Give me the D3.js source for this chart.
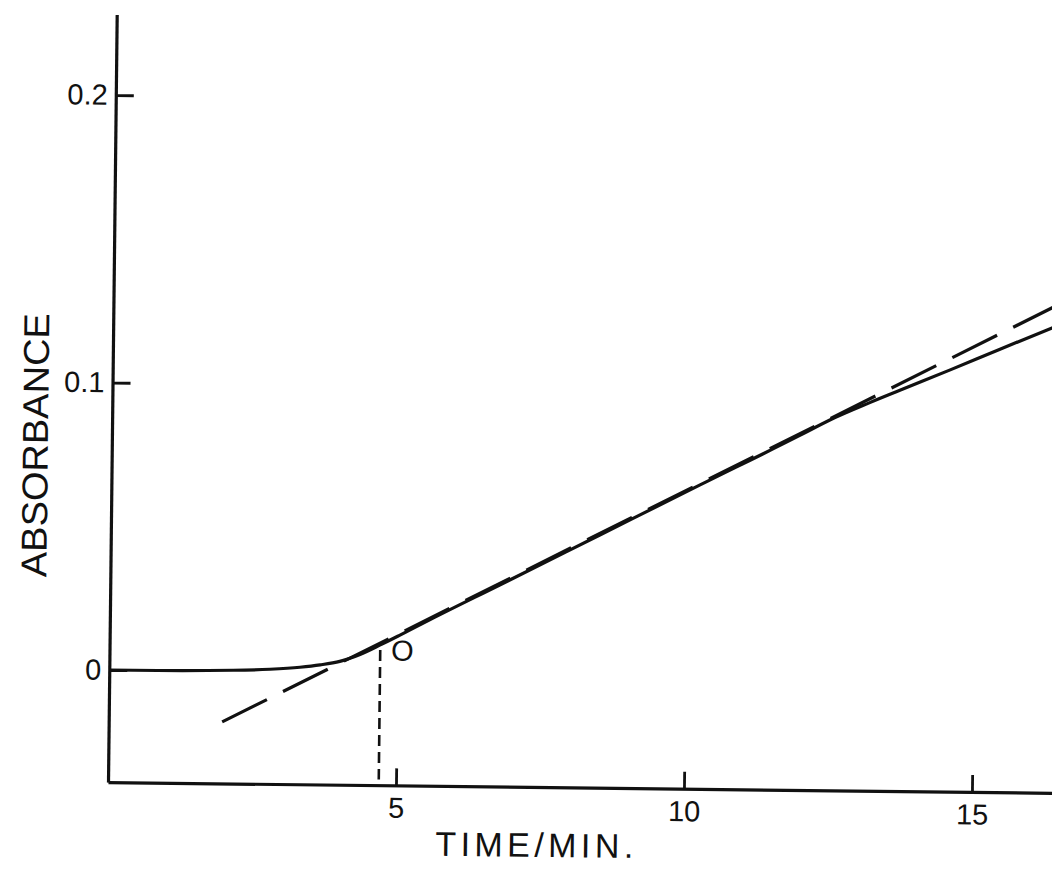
<!doctype html>
<html>
  <head>
    <meta charset="utf-8">
    <title>Absorbance vs time</title>
    <script src="https://d3js.org/d3.v7.min.js"></script>
    <style>
      body { margin: 0; background: #fff; }
    </style>
  </head>
  <body>
    <script>
      const width = 1052;
      const height = 874;

      // tick labels
      const timeTicks = [5, 10, 15];
      const absTicks = [0, 0.1, 0.2];

      // solid recorded trace
      const traceTime = [0, 0.41, 2.15, 2.79, 3.31, 3.66, 4.0, 4.35, 4.7, 5.04, 5.56, 6.77,
        8.49, 10.22, 11.95, 12.46, 13.15, 13.67, 14.54, 15.4, 16.3, 16.6];
      const traceAbs = [0, 0, 0.0004, 0.0009, 0.0017, 0.0026, 0.0039, 0.0064, 0.0098, 0.0133, 0.0188, 0.0312,
        0.0489, 0.0667, 0.0844, 0.0898, 0.096, 0.1004, 0.1077, 0.1151, 0.1227, 0.1252];

      // extrapolated tangent (long dashes)
      const tangentTime = [1.97, 16.6];
      const tangentAbs = [-0.0176, 0.1328];

      // lag time marker
      const lagTime = 4.7;
      const lagAbs = [0.008, -0.037];
      const lagLabel = 'O';

      const svg = d3.select('body').append('svg')
          .attr('width', width)
          .attr('height', height)
          .style('background', '#fff');

      // the scanned figure is turned slightly clockwise
      const g = svg.append('g')
          .attr('transform', 'rotate(0.65, 107, 782)');

      const x = d3.scaleLinear().domain([0, 16.7]).range([108, 108 + 57.6 * 16.7]);
      const y = d3.scaleLinear().domain([-0.039, 0.228]).range([782.1, 14.5]);

      const font = '"Liberation Sans", Arial, sans-serif';
      const ink = '#111';

      // x axis
      const xAxis = g.append('g')
          .attr('transform', `translate(0,${y(-0.039)})`)
          .call(d3.axisBottom(x).tickValues(timeTicks).tickSize(-17).tickSizeOuter(0).tickPadding(12));

      // y axis
      const yAxis = g.append('g')
          .attr('transform', `translate(${x(0)},0)`)
          .call(d3.axisLeft(y).tickValues(absTicks).tickSize(-18).tickSizeOuter(0).tickPadding(8)
            .tickFormat(d => d === 0 ? '0' : d3.format('.1f')(d)));

      [xAxis, yAxis].forEach(a => {
        a.attr('font-family', font).attr('font-size', 29);
        a.select('.domain').attr('stroke', ink).attr('stroke-width', 3.2);
        a.selectAll('.tick line').attr('stroke', ink).attr('stroke-width', 2.8);
        a.selectAll('.tick text').attr('fill', ink);
      });

      // tangent line
      const line = d3.line()
          .x(d => x(d[0]))
          .y(d => y(d[1]));

      g.append('path')
          .datum(d3.zip(tangentTime, tangentAbs))
          .attr('d', line)
          .attr('fill', 'none')
          .attr('stroke', ink)
          .attr('stroke-width', 3.2)
          .attr('stroke-dasharray', '50,18');

      // recorded trace
      g.append('path')
          .datum(d3.zip(traceTime, traceAbs))
          .attr('d', line.curve(d3.curveMonotoneX))
          .attr('fill', 'none')
          .attr('stroke', ink)
          .attr('stroke-width', 3.2)
          .attr('stroke-linejoin', 'round');

      // lag marker
      g.append('line')
          .attr('x1', x(lagTime)).attr('x2', x(lagTime))
          .attr('y1', y(lagAbs[0])).attr('y2', y(lagAbs[1]))
          .attr('stroke', ink)
          .attr('stroke-width', 2.6)
          .attr('stroke-dasharray', '11,6');

      g.append('text')
          .attr('x', x(5.087))
          .attr('y', y(0.008))
          .attr('dy', '0.36em')
          .attr('text-anchor', 'middle')
          .attr('font-family', font)
          .attr('font-size', 29)
          .attr('fill', ink)
          .text(lagLabel);

      // axis titles
      g.append('text')
          .attr('x', 535)
          .attr('y', 852)
          .attr('text-anchor', 'middle')
          .attr('font-family', font)
          .attr('font-size', 34)
          .attr('textLength', 198)
          .attr('lengthAdjust', 'spacing')
          .attr('fill', ink)
          .text('TIME/MIN.');

      g.append('text')
          .attr('transform', 'translate(44,446) rotate(-90)')
          .attr('text-anchor', 'middle')
          .attr('font-family', font)
          .attr('font-size', 36)
          .attr('textLength', 264)
          .attr('lengthAdjust', 'spacingAndGlyphs')
          .attr('fill', ink)
          .text('ABSORBANCE');
    </script>
  </body>
</html>
